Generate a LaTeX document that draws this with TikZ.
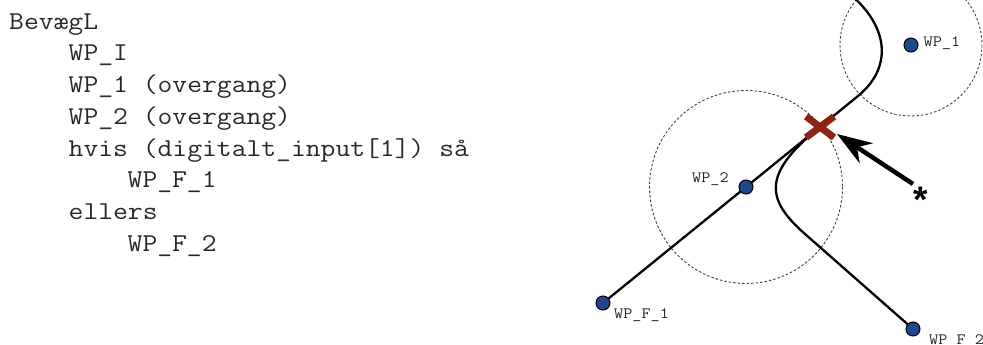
\documentclass[tikz,border=0pt]{standalone}
\usepackage{fontspec}
\newfontfamily\astfont{Liberation Sans}
\newfontfamily\codefont{Latin Modern Mono}[FakeStretch=1.12]
\usetikzlibrary{arrows.meta,backgrounds}
\definecolor{wpblue}{RGB}{31,72,140}
\definecolor{xred}{RGB}{140,36,18}
\definecolor{txtgray}{RGB}{40,40,40}
\tikzset{
  codeline/.style={anchor=base west,inner sep=0pt,text=txtgray,
    font=\fontsize{25.7}{30}\selectfont\codefont},
  wplabel/.style={anchor=base west,inner sep=0pt,text=txtgray,
    font=\fontsize{15.8}{16}\selectfont\codefont},
  wpdot/.style={circle,fill=wpblue,draw=black,line width=1pt,
    minimum size=14pt,inner sep=0pt},
  zone/.style={draw=black!75,line width=0.9pt,dash pattern=on 2.5pt off 2pt},
  robotpath/.style={draw=black,line width=2.3pt},
  xmark/.style={draw=xred,line width=7pt},
  bigarrow/.style={draw=black,line width=4.5pt,
    -{Stealth[length=35pt,width=24pt,inset=11pt]}},
}
\begin{document}
\begin{tikzpicture}[x=1pt,y=-1pt]
\useasboundingbox (0,0) rectangle (983,345);

% program text
\node[codeline] (l1) at (9,29.3)   {BevægL};
\node[codeline] (l2) at (68.5,61)  {WP\_I};
\node[codeline] (l3) at (68.5,92.7)  {WP\_1 (overgang)};
\node[codeline] (l4) at (68.5,124.4) {WP\_2 (overgang)};
\node[codeline] (l5) at (68.5,156)   {hvis (digitalt\_input[1]) så};
\node[codeline] (l6) at (127.5,187.8) {WP\_F\_1};
\node[codeline] (l7) at (68.5,219.5)  {ellers};
\node[codeline] (l8) at (127.5,251.2) {WP\_F\_2};

% waypoints
\node[wpdot] (wp1)  at (911,45)  {};
\node[wpdot] (wp2)  at (746,187) {};
\node[wpdot] (wpf1) at (603,303) {};
\node[wpdot] (wpf2) at (913,329) {};

\node[wplabel] (lab1)  at (923.5,47)  {WP\_1};
\node[wplabel] (lab2)  at (692,182) {WP\_2};
\node[wplabel] (labf1) at (614,318) {WP\_F\_1};
\node[wplabel] (labf2) at (929,344.6) {WP\_F\_2};

\coordinate (j1) at (858,96);
\coordinate (top) at (850,-6);
\coordinate (X) at (820,127);
\coordinate (j2) at (805,234);

\begin{pgfonlayer}{background}
  \draw[zone] (wp1.center) circle [radius=71];
  \draw[zone] (wp2.center) circle [radius=96.5];
  \draw[robotpath] (wpf1.center) -- (wp2.center) -- (j1)
     .. controls (890,70) and (892,30) .. (top);
  \draw[robotpath] (X) .. controls (761.5,174) and (766,199.7) .. (j2)
     -- (wpf2.center);
\end{pgfonlayer}

% decision marker
\draw[xmark] (X) ++(-14,-10.5) -- ++(28,21);
\draw[xmark] (X) ++(-14,10.5) -- ++(28,-21);

% pointer arrow
\node[anchor=base,inner sep=0pt,font=\fontsize{37}{37}\selectfont\astfont\bfseries] (ast) at (921,212.5) {*};
\coordinate (tail) at (913,184);
\coordinate (tip) at (837,134);
\draw[bigarrow] (tail) -- (tip);
\end{tikzpicture}
\end{document}
